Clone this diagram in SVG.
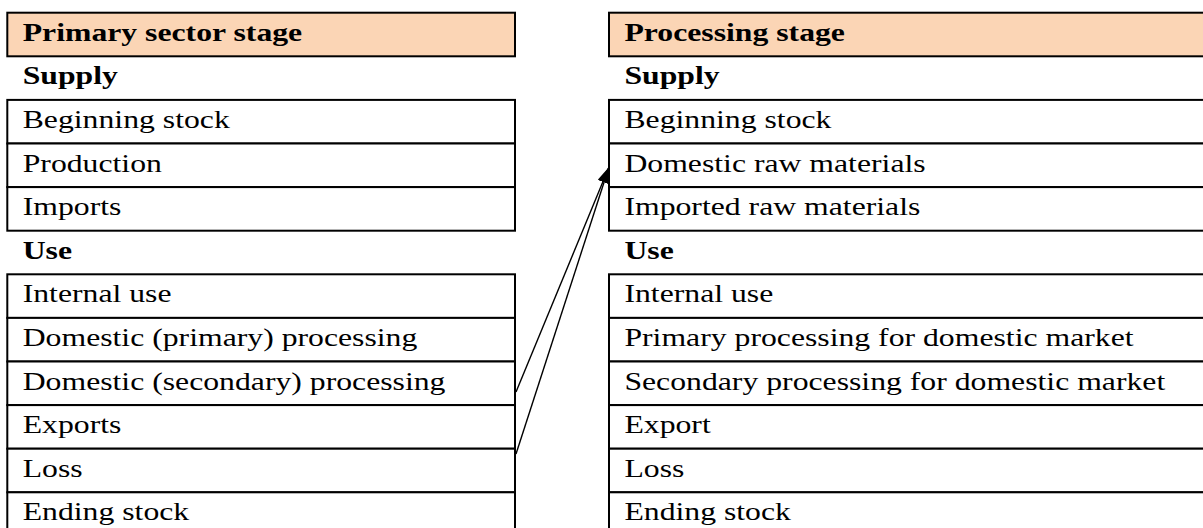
<svg xmlns="http://www.w3.org/2000/svg" width="1203" height="528" viewBox="0 0 1203 528">
<style>
.box{fill:#ffffff;stroke:#000;stroke-width:2}
.hdr{fill:#FBD5B5;stroke:#000;stroke-width:2}
.t{font-family:"Liberation Serif","Times New Roman",serif;font-size:26px;fill:#000}
.b{font-weight:bold}
.con{stroke:#000;stroke-width:1.4;fill:none}
</style>
<defs>
<marker id="ah" markerUnits="userSpaceOnUse" markerWidth="16" markerHeight="11" refX="16" refY="5.5" orient="auto">
<path d="M0,0 L16,5.5 L0,11 z" fill="#000"/>
</marker>
</defs>
<rect width="1203" height="528" fill="#fff"/>
<!-- Left table -->
<g id="left-header"><rect class="hdr" x="7.3" y="12.7" width="507.7" height="43.6"/><text class="t b" transform="matrix(1.22 0 0 1 22.7 40.7)">Primary sector stage</text></g>
<g id="left-supply-label"><text class="t b" transform="matrix(1.22 0 0 1 22.7 84.3)">Supply</text></g>
<g id="left-beginning-stock"><rect class="box" x="7.3" y="99.9" width="507.7" height="43.6"/><text class="t" transform="matrix(1.22 0 0 1 22.7 127.9)">Beginning stock</text></g>
<g id="left-production"><rect class="box" x="7.3" y="143.5" width="507.7" height="43.6"/><text class="t" transform="matrix(1.22 0 0 1 22.7 171.5)">Production</text></g>
<g id="left-imports"><rect class="box" x="7.3" y="187.1" width="507.7" height="43.6"/><text class="t" transform="matrix(1.22 0 0 1 22.7 215.1)">Imports</text></g>
<g id="left-use-label"><text class="t b" transform="matrix(1.22 0 0 1 22.7 258.7)">Use</text></g>
<g id="left-internal-use"><rect class="box" x="7.3" y="274.3" width="507.7" height="43.6"/><text class="t" transform="matrix(1.22 0 0 1 22.7 302.3)">Internal use</text></g>
<g id="left-domestic-primary"><rect class="box" x="7.3" y="317.9" width="507.7" height="43.6"/><text class="t" transform="matrix(1.22 0 0 1 22.7 345.9)">Domestic (primary) processing</text></g>
<g id="left-domestic-secondary"><rect class="box" x="7.3" y="361.5" width="507.7" height="43.6"/><text class="t" transform="matrix(1.22 0 0 1 22.7 389.5)">Domestic (secondary) processing</text></g>
<g id="left-exports"><rect class="box" x="7.3" y="405.1" width="507.7" height="43.6"/><text class="t" transform="matrix(1.22 0 0 1 22.7 433.1)">Exports</text></g>
<g id="left-loss"><rect class="box" x="7.3" y="448.7" width="507.7" height="43.6"/><text class="t" transform="matrix(1.22 0 0 1 22.7 476.7)">Loss</text></g>
<g id="left-ending-stock"><rect class="box" x="7.3" y="492.3" width="507.7" height="43.6"/><text class="t" transform="matrix(1.22 0 0 1 22.7 520.3)">Ending stock</text></g>
<!-- Right table -->
<g id="right-header"><rect class="hdr" x="609" y="12.7" width="604" height="43.6"/><text class="t b" transform="matrix(1.22 0 0 1 624.4 40.7)">Processing stage</text></g>
<g id="right-supply-label"><text class="t b" transform="matrix(1.22 0 0 1 624.4 84.3)">Supply</text></g>
<g id="right-beginning-stock"><rect class="box" x="609" y="99.9" width="604" height="43.6"/><text class="t" transform="matrix(1.22 0 0 1 624.4 127.9)">Beginning stock</text></g>
<g id="right-domestic-raw"><rect class="box" x="609" y="143.5" width="604" height="43.6"/><text class="t" transform="matrix(1.22 0 0 1 624.4 171.5)">Domestic raw materials</text></g>
<g id="right-imported-raw"><rect class="box" x="609" y="187.1" width="604" height="43.6"/><text class="t" transform="matrix(1.22 0 0 1 624.4 215.1)">Imported raw materials</text></g>
<g id="right-use-label"><text class="t b" transform="matrix(1.22 0 0 1 624.4 258.7)">Use</text></g>
<g id="right-internal-use"><rect class="box" x="609" y="274.3" width="604" height="43.6"/><text class="t" transform="matrix(1.22 0 0 1 624.4 302.3)">Internal use</text></g>
<g id="right-primary-processing"><rect class="box" x="609" y="317.9" width="604" height="43.6"/><text class="t" transform="matrix(1.22 0 0 1 624.4 345.9)">Primary processing for domestic market</text></g>
<g id="right-secondary-processing"><rect class="box" x="609" y="361.5" width="604" height="43.6"/><text class="t" transform="matrix(1.22 0 0 1 624.4 389.5)">Secondary processing for domestic market</text></g>
<g id="right-export"><rect class="box" x="609" y="405.1" width="604" height="43.6"/><text class="t" transform="matrix(1.22 0 0 1 624.4 433.1)">Export</text></g>
<g id="right-loss"><rect class="box" x="609" y="448.7" width="604" height="43.6"/><text class="t" transform="matrix(1.22 0 0 1 624.4 476.7)">Loss</text></g>
<g id="right-ending-stock"><rect class="box" x="609" y="492.3" width="604" height="43.6"/><text class="t" transform="matrix(1.22 0 0 1 624.4 520.3)">Ending stock</text></g>
<!-- Connectors -->
<g id="connectors">
<line class="con" x1="516" y1="392" x2="609" y2="167" marker-end="url(#ah)"/>
<line class="con" x1="516" y1="454" x2="609" y2="167" marker-end="url(#ah)"/>
</g>
</svg>
